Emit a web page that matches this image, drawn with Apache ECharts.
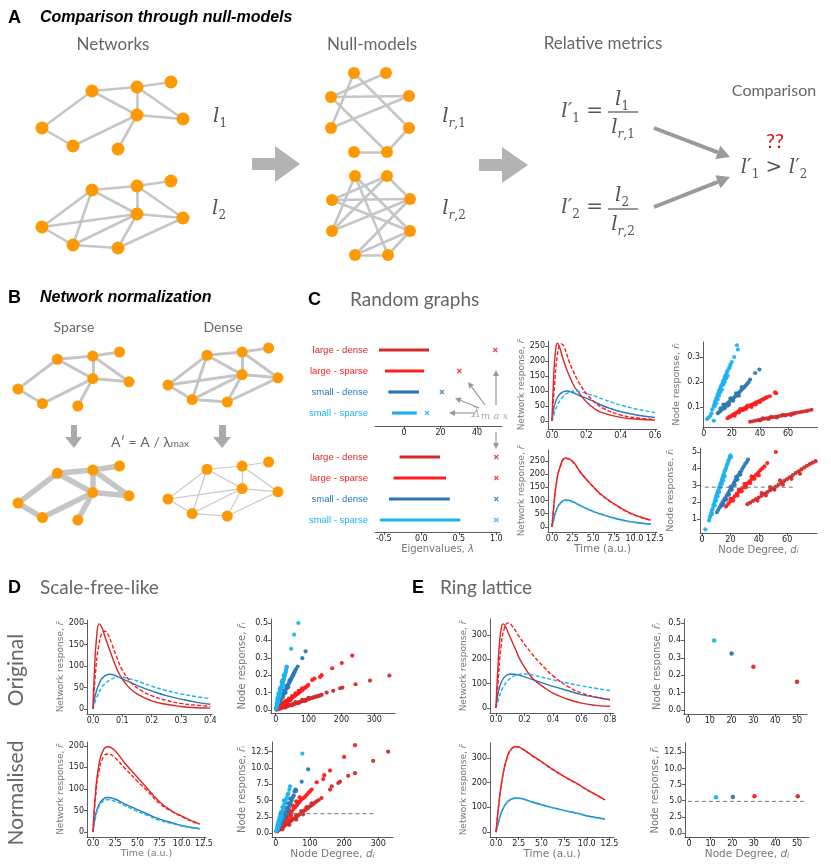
<!DOCTYPE html>
<html><head><meta charset="utf-8">
<script src="https://cdn.jsdelivr.net/npm/echarts@6/dist/echarts.min.js"></script>
<style>html,body{margin:0;padding:0;background:#fff}#c{width:831px;height:868px}</style>
</head><body><div id="c"></div>
<script>
// ================= DATA =================
const cLD='#d42a2c', cLS='#ff1c1c', cSD='#2a78b6', cSS='#1ab3f0';
// network layouts (layout units)
const netNodes=[[50,9],[95,5],[129,0],[95,33],[141,37],[0,46],[31,64],[76,67]];
const sparseEdges=[[0,1],[1,2],[0,3],[1,3],[1,4],[3,4],[0,5],[5,6],[6,3],[3,7]];
const denseEdges=[[0,1],[1,2],[0,3],[1,3],[1,4],[3,4],[0,5],[0,6],[5,3],[5,6],[6,3],[6,7],[7,3],[7,4]];
const nullNodes=[[23,0],[55,0],[0,24],[78,23],[0,55],[78,55],[23,79],[56,79]];
const null1Edges=[[0,4],[0,5],[1,2],[2,3],[2,7],[4,3],[5,7],[6,7]];
const null2Edges=[[0,4],[0,5],[1,2],[1,3],[2,3],[2,5],[4,3],[3,6],[5,6],[5,7],[6,7],[4,1],[0,7]];

// eigenvalue spectra (C)
const eigCats=['small - sparse','small - dense','large - sparse','large - dense'];
const eigMinOrig=[-6.6,-8.6,-10.4,-13.7], eigMaxOrig=[7.0,8.2,11.0,13.7], lamMaxOrig=[12.6,20.8,30.3,50];
const eigMinNorm=[-0.55,-0.43,-0.37,-0.29], eigMaxNorm=[0.52,0.38,0.33,0.25], lamMaxNorm=[1,1,1,1];

// network responses C
const respC_LD=[[0,0],[0.01,150],[0.02,230],[0.031,259],[0.045,245],[0.06,215],[0.08,180],[0.103,148],[0.13,115],[0.152,98],[0.2,64],[0.25,40],[0.3,26],[0.4,12],[0.5,6],[0.6,3]];
const respC_LS=[[0,0],[0.015,120],[0.03,215],[0.045,252],[0.055,257],[0.07,248],[0.1,198],[0.13,158],[0.16,125],[0.2,92],[0.25,62],[0.3,42],[0.4,20],[0.5,10],[0.6,5]];
const respC_SD=[[0,0],[0.01,40],[0.025,70],[0.05,92],[0.084,100],[0.12,95],[0.16,85],[0.2,76],[0.25,63],[0.3,50],[0.35,40],[0.4,31],[0.5,19],[0.6,12]];
const respC_SS=[[0,0],[0.01,20],[0.03,50],[0.06,78],[0.09,93],[0.133,100],[0.17,97],[0.2,92],[0.25,83],[0.3,72],[0.35,62],[0.4,53],[0.5,39],[0.6,28]];
const respCn_LD=[[0,0],[0.25,90],[0.5,160],[1,230],[1.66,261],[2.5,248],[3.5,205],[5,152],[6,122],[7.5,88],[9,60],[10,46],[11,35],[12,26]];
const respCn_LS=[[0,0],[0.25,88],[0.5,158],[1,228],[1.66,259],[2.5,247],[3.5,204],[5,151],[6,121],[7.5,87],[9,59],[10,45],[11,34],[12,25]];
const respCn_SD=[[0,0],[0.25,35],[0.5,62],[1,90],[1.66,102],[2.5,96],[3.5,80],[5,59],[6,48],[7.5,34],[9,23],[10,18],[11,14],[12,11]];
const respCn_SS=[[0,0],[0.25,33],[0.5,60],[1,88],[1.66,100],[2.5,94],[3.5,79],[5,58],[6,47],[7.5,33],[9,22],[10,17],[11,13],[12,10]];
// node responses C
const nodeC_SS=[[2.4,0.052],[3.5,0.058],[4.7,0.065],[5.5,0.075],[6,0.09],[7,0.1],[7.5,0.11],[8,0.105],[8,0.12],[8.5,0.125],[9,0.115],[9,0.135],[9.5,0.14],[10,0.13],[10,0.15],[10.5,0.155],[11,0.145],[11,0.165],[11.5,0.17],[12,0.16],[12,0.18],[12.5,0.185],[13,0.17],[13,0.19],[13.5,0.2],[14,0.19],[14,0.205],[14.5,0.21],[15,0.2],[15,0.22],[15.5,0.225],[16,0.215],[16,0.23],[16.5,0.24],[17,0.225],[17,0.245],[18,0.255],[18.5,0.26],[19,0.27],[20,0.28],[21.7,0.30],[23.6,0.347],[24.3,0.33],[7.2,0.045]];
const nodeC_SD=[[10,0.075],[11,0.08],[12,0.085],[12,0.095],[13,0.09],[14,0.1],[14,0.11],[15,0.095],[15,0.105],[16,0.11],[17,0.105],[17,0.115],[18,0.11],[18,0.12],[19,0.125],[19,0.135],[20,0.13],[21,0.125],[21,0.135],[22,0.14],[23,0.145],[23,0.155],[24,0.15],[25,0.145],[25,0.157],[26,0.163],[27,0.17],[27,0.18],[28,0.175],[29,0.18],[30,0.187],[31,0.193],[32,0.2],[33,0.21],[36.6,0.236],[39.6,0.25]];
const nodeC_LS=[[17,0.055],[18,0.06],[19,0.062],[20,0.066],[21,0.07],[22,0.065],[22,0.073],[23,0.076],[24,0.08],[25,0.078],[25,0.083],[26,0.086],[26,0.092],[27,0.09],[28,0.088],[28,0.092],[29,0.095],[30,0.092],[30,0.098],[31,0.1],[31,0.105],[32,0.103],[33,0.106],[34,0.1],[34,0.108],[35,0.111],[36,0.114],[37,0.11],[37,0.117],[38,0.12],[39,0.122],[40,0.12],[40,0.125],[41,0.128],[42,0.13],[43,0.133],[44,0.136],[45,0.14],[47,0.143],[50.7,0.159],[51.5,0.155]];
const nodeC_LD=[[33,0.041],[35,0.043],[37,0.046],[39,0.048],[40,0.046],[41,0.05],[42,0.055],[43,0.053],[45,0.055],[46,0.052],[47,0.057],[48,0.061],[49,0.059],[51,0.061],[52,0.058],[53,0.063],[55,0.065],[56,0.068],[57,0.067],[58,0.066],[59,0.069],[61,0.071],[62,0.068],[63,0.074],[64,0.073],[65,0.076],[67,0.078],[69,0.08],[71,0.082],[73,0.084],[74.5,0.086],[76.7,0.089]];
const nodeCn_SS=[[2.4,0.38],[5,0.9],[5.5,1.1],[6,1.2],[6.5,1.35],[7,1.3],[7,1.5],[7.5,1.6],[8,1.8],[8.5,1.9],[9,1.8],[9,2.05],[9.5,2.2],[10,2.1],[10,2.35],[10.5,2.45],[11,2.35],[11,2.6],[11.5,2.7],[12,2.6],[12,2.85],[12.5,2.95],[13,2.9],[13,3.1],[13.5,3.2],[14,3.1],[14,3.35],[14.5,3.45],[15,3.3],[15,3.6],[15.5,3.7],[16,3.55],[16,3.85],[16.5,3.95],[17,4.05],[17.5,4.2],[18,4.3],[18.5,4.45],[19,4.55],[19.5,4.7],[20,4.8],[20.5,4.7]];
const nodeCn_SD=[[10.5,1.4],[11.5,1.55],[12.5,1.7],[13.5,1.85],[14,1.8],[14.5,2.0],[15,1.9],[15.5,2.1],[16,2.2],[16.5,2.25],[17,2.15],[17.5,2.4],[18.5,2.55],[19,2.45],[19.5,2.7],[20,2.9],[20.5,2.85],[21,2.75],[21.5,3.0],[22.5,3.15],[23,3.05],[23.5,3.3],[24,3.5],[24.5,3.45],[25,3.35],[25.5,3.6],[26.5,3.75],[27,3.65],[27.5,3.85],[28.5,4.0],[29.5,4.15],[30.5,4.3],[31.5,4.4],[32.4,4.54]];
const nodeCn_LS=[[17,1.75],[18.5,1.9],[20,2.05],[20,2.2],[21.5,2.2],[22,2.1],[23,2.35],[24.5,2.5],[25,2.4],[26,2.62],[26,2.75],[27.5,2.75],[28,2.65],[29,2.88],[30,3.1],[30.5,3.0],[31,2.9],[32,3.13],[33.5,3.25],[34,3.15],[35,3.38],[35,3.55],[36.5,3.5],[37,3.4],[38,3.63],[39.5,3.76],[40,3.6],[41,3.9],[42.5,4.02],[44,4.15],[46,4.34],[52,5.0]];
const nodeCn_LD=[[32,1.88],[34,1.98],[36,2.08],[38,2.18],[39,2.1],[40,2.28],[42,2.38],[42,2.55],[44,2.5],[45,2.4],[46,2.6],[48,2.72],[48,2.9],[50,2.83],[51,2.75],[52,2.94],[54,3.05],[55,3.3],[56,3.16],[57,3.05],[58,3.27],[60,3.38],[62,3.5],[63,3.4],[64,3.62],[66,3.74],[68,3.85],[69,3.7],[70,3.96],[72,4.07],[74,4.18],[76,4.28],[78,4.36],[80,4.45],[82,4.52]];
const refC=[[2,2.9],[66,2.9]];

// D scale-free-like
const respD_LD=[[0,0],[0.005,90],[0.012,165],[0.021,198],[0.03,190],[0.04,170],[0.057,137],[0.075,104],[0.091,80],[0.12,52],[0.15,35],[0.2,19],[0.25,11],[0.3,6],[0.35,3],[0.4,2]];
const respD_LS=[[0,0],[0.008,80],[0.02,150],[0.03,175],[0.04,181],[0.05,175],[0.065,150],[0.08,122],[0.1,91],[0.13,62],[0.16,45],[0.2,31],[0.25,20],[0.3,13],[0.35,9],[0.4,6]];
const respD_SD=[[0,0],[0.01,38],[0.025,65],[0.04,77],[0.057,81],[0.075,78],[0.1,70],[0.13,61],[0.16,52],[0.2,42],[0.25,31],[0.3,23],[0.35,16],[0.4,11]];
const respD_SS=[[0,0],[0.01,22],[0.03,50],[0.06,68],[0.091,74],[0.12,71],[0.16,63],[0.2,53],[0.25,43],[0.3,35],[0.35,29],[0.4,24]];
const respDn_LD=[[0,0],[0.3,95],[0.7,160],[1.2,192],[1.7,198],[2.5,188],[3.5,162],[5,127],[6,104],[7.5,70],[9,47],[10,37],[11,27],[12,19]];
const respDn_LS=[[0,0],[0.3,85],[0.7,145],[1.2,175],[1.7,181],[2.5,172],[3.5,150],[5,118],[6,98],[7.5,66],[9,46],[10,36],[11,26],[12,18]];
const respDn_SD=[[0,0],[0.3,40],[0.7,65],[1.2,77],[1.6,80],[2.5,76],[3.5,66],[5,52],[6,43],[7.5,30],[9,21],[10,15],[11,11],[12,8]];
const respDn_SS=[[0,0],[0.3,36],[0.7,60],[1.2,72],[1.6,75],[2.5,71],[3.5,62],[5,48],[6,40],[7.5,27],[9,19],[10,14],[11,10],[12,7]];
const nodeD_SS=[[1,0.005],[2,0.015],[3,0.02],[3,0.04],[4,0.03],[5,0.04],[5,0.06],[6,0.045],[6,0.07],[7,0.05],[8,0.06],[8,0.09],[9,0.07],[10,0.075],[10,0.1],[11,0.085],[12,0.09],[12,0.12],[13,0.1],[14,0.08],[14,0.105],[15,0.11],[15,0.13],[16,0.12],[17,0.125],[18,0.13],[18,0.16],[19,0.14],[20,0.145],[20,0.17],[21,0.15],[22,0.14],[22,0.16],[23,0.165],[24,0.175],[25,0.18],[25,0.2],[26,0.19],[27,0.2],[28,0.205],[30,0.215],[31,0.225],[32,0.235],[33,0.245],[34,0.25],[47,0.352],[56,0.433],[69,0.5]];
const nodeD_SD=[[3,0.01],[5,0.02],[7,0.03],[9,0.04],[10,0.055],[11,0.045],[13,0.05],[14,0.07],[15,0.06],[17,0.065],[18,0.085],[19,0.075],[21,0.08],[22,0.075],[23,0.09],[25,0.095],[26,0.11],[27,0.105],[29,0.11],[30,0.1],[31,0.12],[33,0.125],[34,0.14],[35,0.135],[37,0.14],[38,0.13],[39,0.15],[41,0.155],[42,0.17],[43,0.165],[45,0.17],[47,0.18],[49,0.185],[51,0.195],[53,0.2],[55,0.21],[57,0.215],[59,0.225],[62,0.235],[67,0.25],[81,0.298],[91,0.337]];
const nodeD_LS=[[2,0.004],[5,0.008],[8,0.012],[10,0.02],[11,0.016],[12,0.01],[14,0.02],[15,0.028],[17,0.024],[20,0.028],[20,0.036],[22,0.025],[23,0.032],[25,0.044],[26,0.037],[29,0.041],[30,0.052],[32,0.045],[35,0.049],[35,0.04],[38,0.054],[40,0.065],[41,0.058],[44,0.062],[45,0.056],[47,0.066],[50,0.071],[50,0.08],[53,0.075],[56,0.079],[59,0.083],[60,0.095],[62,0.088],[65,0.092],[68,0.096],[70,0.11],[71,0.1],[74,0.105],[77,0.11],[80,0.114],[80,0.125],[84,0.12],[88,0.126],[92,0.132],[96,0.138],[99,0.144],[111,0.173],[118,0.18],[135,0.19],[140,0.2],[172,0.24],[201,0.27],[233,0.313]];
const nodeD_LD=[[3,0.002],[7,0.005],[11,0.007],[15,0.01],[19,0.012],[20,0.018],[23,0.015],[27,0.017],[30,0.015],[31,0.02],[35,0.022],[39,0.025],[40,0.03],[43,0.027],[47,0.03],[50,0.027],[51,0.032],[55,0.035],[59,0.037],[60,0.045],[63,0.04],[67,0.042],[70,0.04],[71,0.045],[75,0.047],[79,0.05],[80,0.058],[83,0.052],[87,0.055],[90,0.052],[91,0.058],[95,0.06],[100,0.063],[100,0.07],[105,0.066],[110,0.069],[115,0.072],[120,0.075],[125,0.078],[130,0.081],[135,0.084],[140,0.087],[155,0.1],[175,0.11],[196,0.125],[203,0.129],[243,0.148],[287,0.169],[346,0.198]];
const nodeDn_SS=[[1,0.3],[3,0.5],[4,1.0],[5,0.8],[6,0.6],[6,1.4],[7,1.1],[8,1.8],[9,1.5],[10,1.2],[10,2.2],[11,1.8],[12,2.6],[13,2.1],[14,1.9],[14,3.0],[15,2.5],[16,3.3],[17,2.8],[18,2.4],[19,3.2],[20,4.0],[21,3.6],[23,4.0],[24,5.0],[25,4.4],[27,4.9],[29,5.1],[32,5.4],[35,5.9],[37,6.1],[40,6.7],[42,7.2],[78,12.2]];
const nodeDn_SD=[[4,0.4],[7,0.77],[10,1.1],[12,1.8],[13,1.4],[15,1.2],[16,1.7],[18,2.5],[19,2.0],[22,2.3],[24,3.2],[25,2.6],[26,2.3],[28,2.9],[30,3.9],[32,3.3],[34,3.0],[35,3.6],[36,4.6],[38,4.0],[41,4.4],[42,5.3],[44,4.7],[47,5.1],[50,5.5],[53,5.8],[55,6.4],[58,6.7],[60,6.5],[76,7.9],[95,9.8]];
const nodeDn_LS=[[3,0.4],[8,0.77],[10,1.2],[13,1.1],[15,0.9],[18,1.5],[20,2.1],[23,1.8],[25,1.4],[27,2.0],[30,2.9],[32,2.4],[35,2.1],[37,2.7],[40,3.5],[42,3.0],[45,2.7],[47,3.3],[50,4.2],[52,3.7],[57,4.0],[60,4.9],[62,4.3],[66,4.6],[70,5.5],[71,4.9],[76,5.2],[81,5.4],[86,5.6],[91,5.9],[96,6.2],[100,6.4],[105,6.7],[120,7.8],[139,8.3],[142,8.9],[159,9.6],[200,11.7],[232,13.5]];
const nodeDn_LD=[[5,0.3],[10,0.5],[15,0.7],[15,1.0],[20,0.9],[20,0.6],[25,1.1],[30,1.3],[30,1.6],[35,1.5],[40,1.7],[40,1.3],[45,1.9],[45,2.2],[50,2.1],[55,2.3],[60,2.5],[60,2.8],[60,2.1],[65,2.7],[70,2.9],[75,3.1],[75,3.4],[80,3.3],[80,2.9],[85,3.5],[90,3.7],[90,4.0],[95,3.9],[100,4.1],[105,4.3],[105,4.6],[110,4.5],[115,4.7],[120,4.9],[126,5.1],[134,5.4],[159,6.7],[164,7.2],[183,7.7],[188,7.9],[212,8.8],[232,9.2],[285,11.1],[329,12.5]];
const refD=[[8,3.0],[290,3.0]];

// E ring lattice
const respE_LD=[[0,0],[0.01,130],[0.025,270],[0.04,338],[0.051,346],[0.07,330],[0.1,290],[0.135,245],[0.168,200],[0.22,150],[0.267,116],[0.33,88],[0.4,61],[0.5,37],[0.6,20],[0.7,11],[0.8,7]];
const respE_LS=[[0,0],[0.015,110],[0.035,250],[0.06,330],[0.087,350],[0.11,340],[0.15,305],[0.2,262],[0.25,225],[0.3,190],[0.35,160],[0.4,132],[0.5,90],[0.6,62],[0.7,45],[0.8,34]];
const respE_SD=[[0,0],[0.015,60],[0.04,110],[0.07,133],[0.1,140],[0.14,138],[0.2,128],[0.28,112],[0.35,98],[0.4,89],[0.5,72],[0.6,55],[0.7,44],[0.8,34]];
const respE_SS=[[0,0],[0.02,40],[0.05,85],[0.1,122],[0.15,136],[0.19,140],[0.25,137],[0.3,130],[0.4,116],[0.5,103],[0.6,91],[0.7,81],[0.8,72]];
const respEn_LD=[[0,0],[0.3,110],[0.7,220],[1.2,300],[1.7,338],[2.27,347],[3,335],[4,310],[5,286],[6,260],[7.5,226],[9,195],[10,172],[11,152],[12,131]];
const respEn_LS=[[0,0],[0.3,108],[0.7,218],[1.2,298],[1.7,336],[2.27,346],[3,334],[4,309],[5,285],[6,259],[7.5,225],[9,194],[10,171],[11,151],[12,130]];
const respEn_SD=[[0,0],[0.3,45],[0.7,90],[1.2,120],[1.7,134],[2.27,138],[3,134],[4,122],[5,111],[6,101],[7.5,88],[9,76],[10,66],[11,59],[12,53]];
const respEn_SS=[[0,0],[0.3,44],[0.7,89],[1.2,119],[1.7,133],[2.27,137],[3,133],[4,121],[5,110],[6,100],[7.5,87],[9,75],[10,65],[11,58],[12,52]];
const nodeE_SS=[[12,0.40]], nodeE_SD=[[20,0.324]], nodeE_LS=[[30,0.248]], nodeE_LD=[[50,0.162]];
const nodeEn_SS=[[12.5,5.53]], nodeEn_SD=[[20.3,5.58]], nodeEn_LS=[[30.3,5.68]], nodeEn_LD=[[50.3,5.7]];
const refE=[[-0.5,4.9],[53.4,4.9]];

// tick values
const tResp250=[0,50,100,150,200,250], tResp200=[0,50,100,150,200], tResp300=[0,100,200,300];
const tT12=[0,2.5,5,7.5,10,12.5];

// ================= BUILD =================
const chart=echarts.init(document.getElementById('c'));
const grids=[],xA=[],yA=[],series=[],gfx=[];
const AXC='#333', NAMEC='#777';
function addGrid(l,t,w,h,xa,ya){const i=grids.length;grids.push({left:l,top:t,width:w,height:h});xa.gridIndex=i;ya.gridIndex=i;xA.push(xa);yA.push(ya);return i;}
function hAx(min,max,inv){return {type:'value',min,max,inverse:!!inv,show:false};}
function vAx(min,max,ticks,dec,extra){
  const a={type:'value',min,max,
    axisLine:{show:true,onZero:false,lineStyle:{color:AXC,width:0.8}},
    axisTick:{show:true,length:3,customValues:ticks,lineStyle:{color:AXC,width:0.8}},
    axisLabel:{show:true,customValues:ticks,fontSize:8,color:'#222',fontFamily:'DejaVu Sans',margin:3,
      formatter:v=>dec==null?String(Math.round(v)):Number(v).toFixed(dec)},
    splitLine:{show:false}};
  return Object.assign(a,extra||{});
}
function yName(name,gap,fs){return {name,nameLocation:'middle',nameGap:gap,nameTextStyle:{fontSize:fs||9,color:NAMEC,fontFamily:'DejaVu Sans',rich:{it:{fontStyle:'italic',fontSize:fs||9,color:NAMEC}}}};}
function xName(name,gap,fs){return {name,nameLocation:'middle',nameGap:gap,nameTextStyle:{fontSize:fs||10,color:NAMEC,fontFamily:'DejaVu Sans',rich:{it:{fontStyle:'italic',fontSize:fs||10,color:NAMEC},sb:{fontStyle:'italic',fontSize:(fs||10)-3,color:NAMEC,verticalAlign:'bottom',lineHeight:8}}}};}
function addLine(gi,data,color,dashed,w){series.push({type:'line',xAxisIndex:gi,yAxisIndex:gi,data,smooth:0.5,symbol:'none',lineStyle:{color,width:w||1.4,type:dashed?[4,2]:'solid'},z:dashed?4:3,silent:true});}
function addSc(gi,data,color,size){series.push({type:'scatter',xAxisIndex:gi,yAxisIndex:gi,data,symbolSize:size||4.2,itemStyle:{color,opacity:0.95},silent:true,z:3});}
function addRef(gi,data){series.push({type:'line',xAxisIndex:gi,yAxisIndex:gi,data,symbol:'none',lineStyle:{color:'#777',width:1,type:[4,3]},z:5,silent:true});}
function addNet(l,t,w,h,nodes,edges,ns,ew,xm,ym){
  const gi=addGrid(l,t,w,h,hAx(0,xm),hAx(0,ym,true));
  series.push({type:'graph',coordinateSystem:'cartesian2d',xAxisIndex:gi,yAxisIndex:gi,
    data:nodes.map(p=>({value:p})),links:edges.map(e=>({source:e[0],target:e[1]})),
    symbolSize:ns,itemStyle:{color:'#ff9900'},lineStyle:{color:'#c6c6c6',width:ew,opacity:1},label:{show:false},silent:true,z:2});
}

// ---- networks A ----
addNet(42,82,141,67,netNodes,sparseEdges,13,2.6,141,67);
addNet(42,181,141,67,netNodes,denseEdges,13,2.6,141,67);
addNet(331,73,78,79,nullNodes,null1Edges,12,2.6,78,79);
addNet(332,176,78,79,nullNodes,null2Edges,12,2.6,78,79);
// ---- networks B ----
addNet(18,352,111,54,netNodes,sparseEdges,11,3,141,67);
addNet(168,348,110,54,netNodes,denseEdges,11,3,141,67);
addNet(18,466,111,54,netNodes,sparseEdges,11,5.5,141,67);
addNet(168,462,110,54,netNodes,denseEdges,11,1.1,141,67);

// ---- C eigenvalues ----
const eigColors=[cSS,cSD,cLS,cLD];
function catAx(){return {type:'category',data:eigCats,boundaryGap:true,axisLine:{show:false},axisTick:{show:false},
  axisLabel:{fontSize:9.5,fontFamily:'Liberation Sans',margin:7,color:(v,i)=>eigColors[eigCats.indexOf(v)]}};}
const xPath='path://M2,0L5,3L8,0L10,2L7,5L10,8L8,10L5,7L2,10L0,8L3,5L0,2Z';
function addEig(gi,mins,maxs,lams){
  eigCats.forEach((c,i)=>{
    series.push({type:'line',xAxisIndex:gi,yAxisIndex:gi,data:[[mins[i],c],[maxs[i],c]],symbol:'none',lineStyle:{color:eigColors[i],width:3.2},silent:true});
    series.push({type:'scatter',xAxisIndex:gi,yAxisIndex:gi,data:[[lams[i],c]],symbol:xPath,symbolSize:5,itemStyle:{color:eigColors[i]},silent:true});
  });
}
let g=addGrid(375,339.5,127,84,vAx(-15.9,53.7,[0,20,40],null,{offset:2.5}),catAx());
addEig(g,eigMinOrig,eigMaxOrig,lamMaxOrig);
g=addGrid(375,446.5,125,84,vAx(-0.617,1.049,[-0.5,0,0.5,1],1,Object.assign({offset:1.5},xName('Eigenvalues, {it|λ}',12,10))),catAx());
addEig(g,eigMinNorm,eigMaxNorm,lamMaxNorm);

// ---- C responses ----
const rName='Network response, {it|r\u0304}';
const nName='Node response, {it|r\u0304\u1d62}';
const dName='Node Degree, {it|d}{sb|i}';
g=addGrid(548,341,109,88,vAx(-0.0233,0.6116,[0,0.2,0.4,0.6],1),vAx(-26.7,266.7,tResp250,null,yName(rName,17,9)));
addLine(g,respC_SS,cSS,true);addLine(g,respC_SD,cSD,false);addLine(g,respC_LS,cLS,true);addLine(g,respC_LD,cLD,false);
g=addGrid(548,450,109,82,vAx(-0.485,12.74,tT12,1,xName('Time (a.u.)',12,10.5)),vAx(-19,291,tResp250,null,yName(rName,17,9)));
addLine(g,respCn_SD,cSD,false);addLine(g,respCn_SS,cSS,true);addLine(g,respCn_LD,cLD,false);addLine(g,respCn_LS,cLS,true);
g=addGrid(703,342,114.6,85,vAx(-0.5,81,[0,20,40,60]),vAx(0.02,0.36,[0.1,0.2,0.3],1,yName(nName,21,9.5)));
addSc(g,nodeC_LD,cLD);addSc(g,nodeC_LS,cLS);addSc(g,nodeC_SD,cSD);addSc(g,nodeC_SS,cSS);
g=addGrid(700,448,117,85,vAx(-1.4,81,[0,20,40,60],null,xName(dName,12,10)),vAx(0.16,5.24,[1,2,3,4,5],null,yName(nName,24,9.5)));
addSc(g,nodeCn_LD,cLD);addSc(g,nodeCn_LS,cLS);addSc(g,nodeCn_SD,cSD);addSc(g,nodeCn_SS,cSS);addRef(g,refC);

// ---- D ----
g=addGrid(87,620,125,94,vAx(-0.0205,0.406,[0,0.1,0.2,0.3,0.4],1),vAx(-11.6,207,tResp200,null,yName(rName,19,9)));
addLine(g,respD_SS,cSS,true);addLine(g,respD_SD,cSD,false);addLine(g,respD_LS,cLS,true);addLine(g,respD_LD,cLD,false);
g=addGrid(87,742,119,95,vAx(-0.676,12.73,tT12,1,xName('Time (a.u.)',12,9.5)),vAx(-11.6,209,tResp200,null,yName(rName,19,9)));
addLine(g,respDn_SD,cSD,false);addLine(g,respDn_SS,cSS,true);addLine(g,respDn_LD,cLD,false);addLine(g,respDn_LS,cLS,true);
g=addGrid(271,619,124,94,vAx(-14.3,363,[0,100,200,300]),vAx(-0.0173,0.523,[0,0.1,0.2,0.3,0.4,0.5],1,yName(nName,24,10)));
addSc(g,nodeD_LD,cLD);addSc(g,nodeD_LS,cLS);addSc(g,nodeD_SD,cSD);addSc(g,nodeD_SS,cSS);
g=addGrid(272,742,121,95,vAx(-10.8,343,[0,100,200,300],null,xName(dName,12,10.5)),vAx(-0.57,13.98,tT12,1,yName(nName,24,10)));
addSc(g,nodeDn_LD,cLD);addSc(g,nodeDn_LS,cLS);addSc(g,nodeDn_SD,cSD);addSc(g,nodeDn_SS,cSS);addRef(g,refD);

// ---- E ----
g=addGrid(490,619,124,94,vAx(-0.042,0.828,[0,0.2,0.4,0.6,0.8],1),vAx(-20.5,366,tResp300,null,yName(rName,20,9)));
addLine(g,respE_SS,cSS,true);addLine(g,respE_SD,cSD,false);addLine(g,respE_LS,cLS,true);addLine(g,respE_LD,cLD,false);
g=addGrid(490,743,124,94,vAx(-0.66,13.0,tT12,1,xName('Time (a.u.)',12,10.5)),vAx(-20,361,tResp300,null,yName(rName,20,9)));
addLine(g,respEn_SD,cSD,false);addLine(g,respEn_LD,cLD,false);addLine(g,respEn_SS,cSS,true);addLine(g,respEn_LS,cLS,true);
g=addGrid(684,619,123,95,vAx(-1.83,54.6,[0,10,20,30,40,50]),vAx(-0.023,0.523,[0,0.1,0.2,0.3,0.4,0.5],1,yName(nName,22,10)));
addSc(g,nodeE_SS,cSS,4.5);addSc(g,nodeE_SD,cSD,4.5);addSc(g,nodeE_LS,cLS,4.5);addSc(g,nodeE_LD,cLD,4.5);
g=addGrid(685,743,124,94,vAx(-1.85,55.5,[0,10,20,30,40,50],null,xName(dName,12,10.5)),vAx(-0.62,13.95,tT12,1,yName(nName,22,10)));
addRef(g,refE);addSc(g,nodeEn_SS,cSS,4.5);addSc(g,nodeEn_SD,cSD,4.5);addSc(g,nodeEn_LS,cLS,4.5);addSc(g,nodeEn_LD,cLD,4.5);

// ================= GRAPHICS =================
function txt(x,y,text,st,rot){gfx.push({type:'text',x,y,rotation:rot||0,silent:true,style:Object.assign({text,fill:'#666',fontSize:14,fontFamily:'Lato',align:'left',verticalAlign:'middle'},st||{})});}
function poly(pts,col){gfx.push({type:'polygon',silent:true,shape:{points:pts},style:{fill:col}});}
function arrow(x1,y1,x2,y2,w,hl,hw,col){
  const dx=x2-x1,dy=y2-y1,L=Math.hypot(dx,dy),ux=dx/L,uy=dy/L,bx=x2-ux*hl,by=y2-uy*hl;
  gfx.push({type:'line',silent:true,shape:{x1,y1,x2:bx,y2:by},style:{stroke:col,lineWidth:w}});
  poly([[x2,y2],[bx-uy*hw,by+ux*hw],[bx+uy*hw,by-ux*hw]],col);
}
const H={fontFamily:'Liberation Sans',fontWeight:'bold',fill:'#000'};
const mathRich={i:{fontFamily:'DejaVu Serif',fontStyle:'italic',fontSize:20,fill:'#555',lineHeight:26},
  n:{fontFamily:'DejaVu Serif',fontSize:20,fill:'#555',lineHeight:26},
  sub:{fontFamily:'DejaVu Serif',fontSize:12,fill:'#555',verticalAlign:'bottom',lineHeight:13},
  isub:{fontFamily:'DejaVu Serif',fontStyle:'italic',fontSize:12,fill:'#555',verticalAlign:'bottom',lineHeight:13}};
function math(x,y,text,align){txt(x,y,text,{rich:mathRich,align:align||'center',fill:'#555',fontSize:20,fontFamily:'DejaVu Serif'});}

// panel A
txt(8,18,'A',Object.assign({fontSize:18},H));
txt(40,18,'Comparison through null-models',Object.assign({fontSize:16,fontStyle:'italic'},H));
txt(113,45,'Networks',{align:'center',fontSize:17});
txt(372,45,'Null-models',{align:'center',fontSize:17});
txt(603,44,'Relative metrics',{align:'center',fontSize:17});
txt(774,91,'Comparison',{align:'center',fontSize:16});
math(220,117,'{i|l}{sub|1}');math(219,209,'{i|l}{sub|2}');
math(454,117,'{i|l}{isub|r}{sub|,1}');math(454,209,'{i|l}{isub|r}{sub|,2}');
math(603,112,'{i|l}{n|\u2032}{sub|1}{n| =}','right');
math(622,100,'{i|l}{sub|1}');gfx.push({type:'line',silent:true,shape:{x1:608,y1:112,x2:638,y2:112},style:{stroke:'#555',lineWidth:1.2}});math(623,128,'{i|l}{isub|r}{sub|,1}');
math(603,208,'{i|l}{n|\u2032}{sub|2}{n| =}','right');
math(622,196,'{i|l}{sub|2}');gfx.push({type:'line',silent:true,shape:{x1:608,y1:209,x2:638,y2:209},style:{stroke:'#555',lineWidth:1.2}});math(623,225,'{i|l}{isub|r}{sub|,2}');
txt(775,142,'??',{align:'center',fontSize:20,fill:'#cc1111',fontFamily:'Lato'});
math(774,168,'{i|l}{n|\u2032}{sub|1}{n| > }{i|l}{n|\u2032}{sub|2}');
poly([[252,158],[275,158],[275,146],[300,164],[275,182],[275,170],[252,170]],'#b3b3b3');
poly([[479,159],[502,159],[502,147],[528,165],[502,183],[502,171],[479,171]],'#b3b3b3');
arrow(654,128,730,157,4,13,7,'#9a9a9a');
arrow(654,207,730,177,4,13,7,'#9a9a9a');

// panel B
txt(8,298,'B',Object.assign({fontSize:18},H));
txt(40,298,'Network normalization',Object.assign({fontSize:16,fontStyle:'italic'},H));
txt(74,327,'Sparse',{align:'center',fontSize:14});
txt(223,327,'Dense',{align:'center',fontSize:14});
poly([[71,425],[77,425],[77,437],[82,437],[74,448],[65,437],[71,437]],'#aaaaaa');
poly([[219,425],[226,425],[226,437],[231,437],[222,448],[213,437],[219,437]],'#aaaaaa');
txt(150,442,'A\u2032 = A / \u03bb{s|max}',{align:'center',fontSize:14,rich:{s:{fontSize:10,fill:'#666',fontFamily:'Lato',verticalAlign:'bottom',lineHeight:11}}});

// panel C
txt(308,300,'C',Object.assign({fontSize:18},H));
txt(350,300,'Random graphs',{fontSize:19});
txt(490,413,'{i|\u03bb}{s|m a x}',{align:'center',rich:{i:{fontFamily:'DejaVu Serif',fontStyle:'italic',fontSize:14,fill:'#aaa',lineHeight:16},s:{fontFamily:'DejaVu Serif',fontStyle:'italic',fontSize:10,fill:'#aaa',verticalAlign:'bottom',lineHeight:10}}});
arrow(496,405,496,370,1.2,6,3,'#999');
arrow(485,405,468,382,1.2,6,3,'#999');
arrow(479,408,455,398,1.2,6,3,'#999');
arrow(474,413,449,413,1.2,6,3,'#999');
arrow(496,432,496,449,1.2,6,3,'#999');

// panel D / E
txt(8,588,'D',Object.assign({fontSize:18},H));
txt(40,588,'Scale-free-like',{fontSize:19});
txt(412,588,'E',Object.assign({fontSize:18},H));
txt(440,588,'Ring lattice',{fontSize:19});
txt(16,670,'Original',{align:'center',fontSize:21},Math.PI/2);
txt(16,793,'Normalised',{align:'center',fontSize:21},Math.PI/2);

chart.setOption({animation:false,backgroundColor:'#fff',textStyle:{fontFamily:'DejaVu Sans'},
  grid:grids,xAxis:xA,yAxis:yA,series,graphic:{elements:gfx}});
</script></body></html>
